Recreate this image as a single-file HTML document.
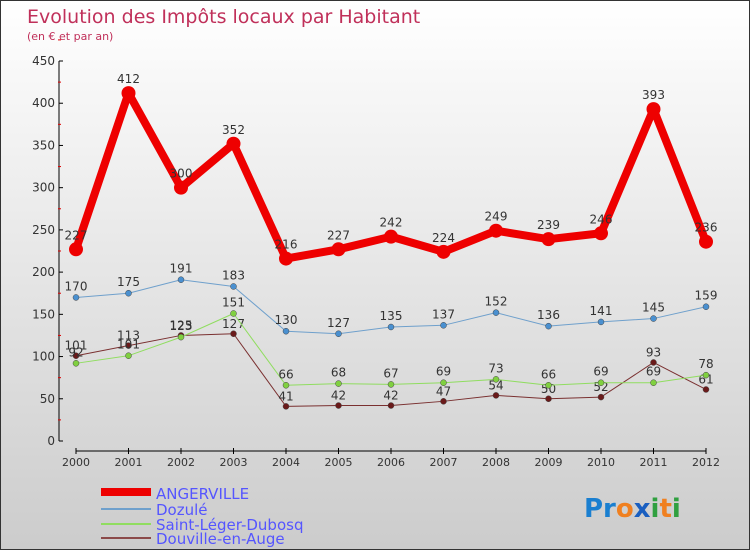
<!DOCTYPE html>
<html><head><meta charset="utf-8"><style>
body{margin:0}
#c{width:748px;height:548px;border:1px solid #333;background:linear-gradient(#fff,#ccc);position:relative;overflow:hidden;font-family:"DejaVu Sans","Liberation Sans",sans-serif}
</style></head><body>
<div id="c">
<svg id="s" width="748" height="548" xmlns="http://www.w3.org/2000/svg" font-family="DejaVu Sans, Liberation Sans, sans-serif">
<text x="26" y="22" font-size="19" fill="#c0305a">Evolution des Impôts locaux par Habitant</text>
<text x="26" y="39" font-size="11" fill="#c0305a">(en € et par an)</text>
<g id="axes"></g><g id="series"></g>
<g font-size="15" fill="#5555ff">
<rect x="100" y="487" width="50" height="8" fill="#e00"/>
<text x="155" y="498">ANGERVILLE</text>
<rect x="100" y="507" width="50" height="2" fill="#6fa0cc"/>
<text x="155" y="514">Dozulé</text>
<rect x="100" y="522" width="50" height="2" fill="#90dd60"/>
<text x="155" y="529">Saint-Léger-Dubosq</text>
<rect x="100" y="536" width="50" height="2" fill="#8b4a4a"/>
<text x="155" y="543">Douville-en-Auge</text>
</g>
<text x="583" y="516" font-size="26" font-weight="bold"><tspan fill="#1a7fd0">Pr</tspan><tspan fill="#f08020">o</tspan><tspan fill="#1a5fc0">x</tspan><tspan fill="#30a040">i</tspan><tspan fill="#f08020">t</tspan><tspan fill="#30a040">i</tspan></text>
</svg></div>
<script>
const years=[2000,2001,2002,2003,2004,2005,2006,2007,2008,2009,2010,2011,2012];
const yTicks=[0,50,100,150,200,250,300,350,400,450];
const angerville=[227,412,300,352,216,227,242,224,249,239,246,393,236];
const dozule=[170,175,191,183,130,127,135,137,152,136,141,145,159];
const saintLeger=[92,101,123,151,66,68,67,69,73,66,69,69,78];
const douville=[101,113,125,127,41,42,42,47,54,50,52,93,61];
const NS="http://www.w3.org/2000/svg";
function X(i){return 75+i*(630/(years.length-1));}
function Y(v){return 440-v*380/450;}
function mk(t,a,p){const e=document.createElementNS(NS,t);for(const k in a)e.setAttribute(k,a[k]);p.appendChild(e);return e;}
const ax=document.getElementById('axes');
let l=mk('line',{x1:58,y1:60,x2:58,y2:440,stroke:'#000'},ax);


yTicks.forEach(v=>{
 mk('line',{x1:58,y1:Y(v),x2:62,y2:Y(v),stroke:'#000'},ax);
 mk('line',{x1:57,y1:Y(v+25),x2:60,y2:Y(v+25),stroke:'#d00'},ax);
 const t=mk('text',{x:54,y:Y(v)+4,'text-anchor':'end','font-size':12,fill:'#333'},ax);t.textContent=v;
 
 
});
l=mk('line',{x1:75,y1:450,x2:705,y2:450,stroke:'#000'},ax);


years.forEach((y,i)=>{
 mk('line',{x1:X(i),y1:447,x2:X(i),y2:453,stroke:'#000'},ax);
 const t=mk('text',{x:X(i),y:465,'text-anchor':'middle','font-size':11,fill:'#333'},ax);t.textContent=y;
 
 
});
const sg=document.getElementById('series');
function draw(data,name,col,dot,w,r,dy){
 const g=mk('g',{},sg);
 
 
 const pts=data.map((v,i)=>X(i)+','+Y(v)).join(' ');
 mk('polyline',{points:pts,fill:'none',stroke:col,'stroke-width':w,'stroke-linejoin':'round'},g);
 data.forEach((v,i)=>{
  const c=mk('circle',{cx:X(i),cy:Y(v),r:r,fill:dot,stroke:'#444','stroke-width':w>3?0:0.5},g);
  
  
  const t=mk('text',{x:X(i),y:Y(v)+dy,'text-anchor':'middle','font-size':12,fill:'#333'},g);t.textContent=v;
  
  
 });
}
draw(douville,'douville','#7a3030','#6a1a1a',1,3,-6);
draw(saintLeger,'saint-leger','#90dd60','#80d040',1,3,-7);
draw(dozule,'dozule','#6fa0cc','#4a90d0',1,3,-7);
draw(angerville,'angerville','#ee0000','#ee0000',8,7,-10);
</script>
</body></html>
